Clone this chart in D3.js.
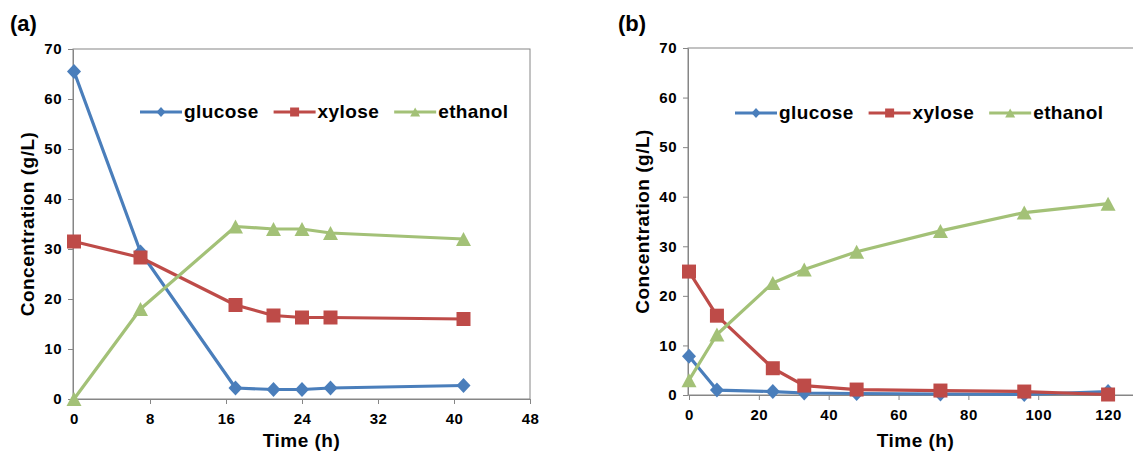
<!DOCTYPE html>
<meta charset="utf-8">
<style>
body { margin: 0; background: #fff; }
svg text {
  font-family: "Liberation Sans", Arial, Helvetica, sans-serif;
  font-weight: bold;
  fill: #000;
}
.tick text { font-size: 15px; letter-spacing: 0.5px; }
.axis .domain, .axis line { stroke: #868686; stroke-width: 1; }
.title { font-size: 19px; letter-spacing: 0.5px; }
.legend text { font-size: 19px; letter-spacing: 0.4px; }
.panel-label { font-size: 22px; }
</style>
<body>
<svg width="1133" height="455" id="chart"></svg>
<script src="https://cdn.jsdelivr.net/npm/d3@7"></script>
<script>

// panel (a)
var timeA = [0, 7, 17, 21, 24, 27, 41];
var glucoseA = [65.5, 29.4, 2.2, 1.9, 1.9, 2.2, 2.7];
var xyloseA = [31.5, 28.3, 18.8, 16.7, 16.3, 16.3, 16.0];
var ethanolA = [0, 18.0, 34.5, 34.0, 34.0, 33.2, 32.0];
var xTicksA = [0, 8, 16, 24, 32, 40, 48];

// panel (b)
var timeB = [0, 8, 24, 33, 48, 72, 96, 120];
var glucoseB = [7.8, 1.0, 0.7, 0.4, 0.3, 0.2, 0.1, 0.7];
var xyloseB = [24.9, 16.0, 5.4, 1.9, 1.1, 0.9, 0.7, 0.1];
var ethanolB = [3.0, 12.2, 22.6, 25.3, 28.9, 33.1, 36.8, 38.6];
var xTicksB = [0, 20, 40, 60, 80, 100, 120];

var yTicks = [0, 10, 20, 30, 40, 50, 60, 70];
var seriesNames = ["glucose", "xylose", "ethanol"];
var colors = ["#4A7EBB", "#BE4B48", "#A3C177"];
var shapes = ["diamond", "square", "triangle"];

var svg = d3.select("#chart");

function markerPath(shape, r) {
  if (shape === "diamond") return "M0," + (-r - 0.5) + "L" + r + ",0L0," + (r + 0.5) + "L" + (-r) + ",0Z";
  if (shape === "square") return "M" + (-r) + "," + (-r) + "H" + r + "V" + r + "H" + (-r) + "Z";
  return "M0," + (-r) + "L" + (r + 0.5) + "," + r + "L" + (-r - 0.5) + "," + r + "Z";
}

function drawPanel(p) {
  var x = d3.scaleLinear().domain([0, p.xMax]).range([p.left + 1, p.right]);
  var y = d3.scaleLinear().domain([0, 70]).range([p.bottom, p.top]);

  // plot border
  svg.append("rect")
    .attr("x", p.left).attr("y", p.top)
    .attr("width", p.right - p.left).attr("height", p.bottom - p.top)
    .attr("fill", "none").attr("stroke", "#868686").attr("stroke-width", 1);

  svg.append("g")
    .attr("class", "axis")
    .attr("transform", "translate(" + p.left + ",0)")
    .call(d3.axisLeft(y).tickValues(yTicks).tickSize(5).tickSizeOuter(0).tickPadding(6));

  svg.append("g")
    .attr("class", "axis")
    .attr("transform", "translate(0," + p.bottom + ")")
    .call(d3.axisBottom(x).tickValues(p.xTicks).tickSize(5).tickSizeOuter(0).tickPadding(9));

  var line = d3.line()
    .x(function(d) { return x(d[0]); })
    .y(function(d) { return y(d[1]); });

  p.series.forEach(function(vals, i) {
    var pts = p.time.map(function(t, j) { return [t, vals[j]]; });
    svg.append("path")
      .datum(pts)
      .attr("fill", "none")
      .attr("stroke", colors[i])
      .attr("stroke-width", 3.2)
      .attr("stroke-linejoin", "round")
      .attr("d", line);
    svg.append("g").selectAll("path")
      .data(pts)
      .enter().append("path")
      .attr("transform", function(d) { return "translate(" + x(d[0]) + "," + y(d[1]) + ")"; })
      .attr("d", markerPath(shapes[i], 7))
      .attr("fill", colors[i]);
  });

  // axis titles
  svg.append("text")
    .attr("class", "title")
    .attr("text-anchor", "middle")
    .attr("x", (p.left + p.right) / 2)
    .attr("y", 447)
    .text("Time (h)");

  svg.append("text")
    .attr("class", "title")
    .attr("text-anchor", "middle")
    .attr("transform", "translate(" + (p.left - 39) + "," + ((p.top + p.bottom) / 2) + ") rotate(-90)")
    .text("Concentration (g/L)");

  svg.append("text")
    .attr("class", "panel-label")
    .attr("x", p.labelX)
    .attr("y", 31)
    .text(p.label);

  // legend
  var lg = svg.append("g").attr("class", "legend");
  var cx = p.legendX;
  seriesNames.forEach(function(name, i) {
    lg.append("line")
      .attr("x1", cx).attr("x2", cx + 42)
      .attr("y1", p.legendY).attr("y2", p.legendY)
      .attr("stroke", colors[i]).attr("stroke-width", 3.2);
    lg.append("path")
      .attr("transform", "translate(" + (cx + 21) + "," + p.legendY + ")")
      .attr("d", markerPath(shapes[i], 4.5))
      .attr("fill", colors[i]);
    var t = lg.append("text")
      .attr("x", cx + 44)
      .attr("y", p.legendY + 6)
      .text(name);
    cx += 44 + t.node().getComputedTextLength() + 15;
  });
}

drawPanel({
  label: "(a)", labelX: 10,
  left: 73, right: 530, top: 49, bottom: 399,
  xMax: 48, xTicks: xTicksA,
  time: timeA, series: [glucoseA, xyloseA, ethanolA],
  legendX: 140, legendY: 112
});

drawPanel({
  label: "(b)", labelX: 618,
  left: 688, right: 1143, top: 48, bottom: 395,
  xMax: 130, xTicks: xTicksB,
  time: timeB, series: [glucoseB, xyloseB, ethanolB],
  legendX: 735, legendY: 113
});

</script>
</body>
